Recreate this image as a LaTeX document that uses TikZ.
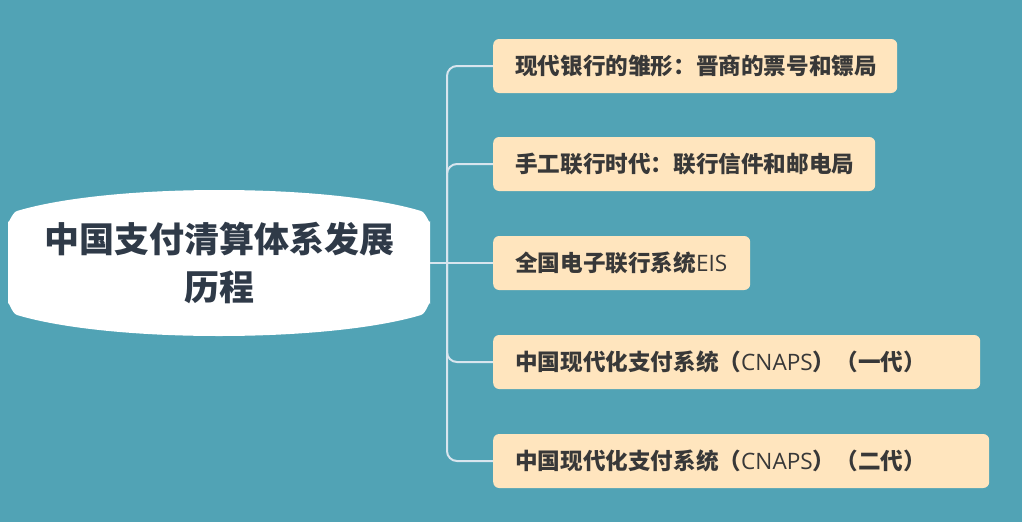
\documentclass[tikz,border=0pt]{standalone}
\usepackage{fontspec}
\setmainfont{Noto Sans CJK SC}
\newfontfamily\latinfont{Open Sans}
\definecolor{bgc}{HTML}{51A3B5}
\definecolor{boxc}{HTML}{FFE5BE}
\definecolor{linec}{HTML}{D8E5EE}
\definecolor{roottext}{HTML}{2F3A48}
\definecolor{childtext}{HTML}{383838}
\tikzset{
  childbox/.style={draw=none, fill=boxc, rounded corners=6pt, anchor=west,
    minimum height=54pt, inner xsep=22pt, align=left, text=childtext,
    font=\fontsize{22.6}{26}\selectfont\bfseries},
  conn/.style={draw=linec, line width=2pt, rounded corners=10pt},
}
\newcommand{\lat}[1]{{\latinfont\mdseries #1}}
\begin{document}
\begin{tikzpicture}[x=1pt,y=-1pt]
\fill[bgc] (0,0) rectangle (1022,522);
\useasboundingbox (0,0) rectangle (1022,522);
% root shape
\fill[white] (8,304) -- (8,221) to[out=-90,in=195] (17,211)
  .. controls (110,183) and (328,183) .. (421,211)
  to[out=-15,in=-90] (430,221) -- (430,304)
  to[out=90,in=15] (421,315)
  .. controls (328,343) and (110,343) .. (17,315)
  to[out=165,in=90] (8,304) -- cycle;
\node[minimum width=422pt, minimum height=100pt, inner sep=0pt, align=center,
  text=roottext, font=\fontsize{35}{48}\selectfont\bfseries] (root) at (219,263)
  {中国支付清算体系发展\\历程};
\node[childbox, text width=360pt] (c1) at (493,66) {现代银行的雏形：晋商的票号和镖局};
\node[childbox, text width=338pt] (c2) at (493,164) {手工联行时代：联行信件和邮电局};
\node[childbox, text width=213pt] (c3) at (493,263) {全国电子联行系统\lat{EIS}};
\node[childbox, text width=443pt] (c4) at (493,362) {中国现代化支付系统（\lat{CNAPS}）（一代）};
\node[childbox, text width=452pt] (c5) at (493,461) {中国现代化支付系统（\lat{CNAPS}）（二代）};
\coordinate (hub) at (447,263);
\draw[conn] (root.east) -- (c3.west);
\draw[conn] (hub) |- (c1.west);
\draw[conn] (hub) |- (c2.west);
\draw[conn] (hub) |- (c4.west);
\draw[conn] (hub) |- (c5.west);
\end{tikzpicture}
\end{document}
